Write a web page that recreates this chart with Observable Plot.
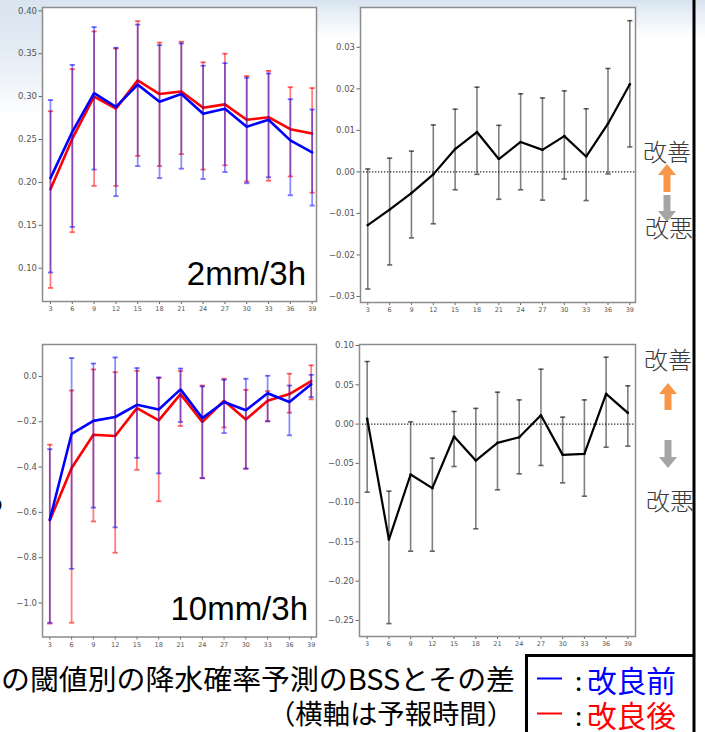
<!DOCTYPE html>
<html>
<head>
<meta charset="utf-8">
<script src="https://cdn.jsdelivr.net/npm/d3@7"></script>
<script src="https://cdn.jsdelivr.net/npm/@observablehq/plot@0.6"></script>
<style>
  html, body { margin: 0; padding: 0; background: #fff; }
  #page { position: relative; width: 705px; height: 732px; overflow: hidden; background: #fff; }
  .bgTop { position: absolute; left: 0; top: 0; width: 705px; height: 40px;
           background: linear-gradient(to bottom, #d6e2ef 0px, #e6eef6 12px, rgba(255,255,255,0) 38px); }
  .bgLeft { position: absolute; left: 0; top: 0; width: 48px; height: 120px;
            background: linear-gradient(to bottom, #d9e4f0 0px, #e3ebf4 50px, rgba(255,255,255,0) 118px); }
  .panel { position: absolute; }
  #overlay { position: absolute; left: 0; top: 0; }
</style>
</head>
<body>
<div id="page">
  <div class="bgTop"></div>
  <div class="bgLeft"></div>
</div>
<script>
// ---------- data ----------
const hours = [3, 6, 9, 12, 15, 18, 21, 24, 27, 30, 33, 36, 39];

// 2mm/3h BSS, before improvement (blue)
const bss2Before   = [0.205, 0.259, 0.304, 0.288, 0.314, 0.294, 0.303, 0.280, 0.286, 0.265, 0.273, 0.249, 0.235];
const bss2BeforeHi = [0.296, 0.337, 0.381, 0.357, 0.384, 0.360, 0.362, 0.336, 0.339, 0.322, 0.327, 0.297, 0.285];
const bss2BeforeLo = [0.095, 0.148, 0.215, 0.184, 0.219, 0.205, 0.216, 0.204, 0.212, 0.199, 0.206, 0.185, 0.173];
// 2mm/3h BSS, after improvement (red)
const bss2After    = [0.192, 0.251, 0.300, 0.286, 0.319, 0.303, 0.306, 0.287, 0.291, 0.273, 0.276, 0.262, 0.257];
const bss2AfterHi  = [0.283, 0.332, 0.376, 0.356, 0.388, 0.363, 0.364, 0.340, 0.350, 0.324, 0.330, 0.311, 0.310];
const bss2AfterLo  = [0.077, 0.142, 0.196, 0.196, 0.231, 0.219, 0.233, 0.215, 0.220, 0.201, 0.202, 0.207, 0.188];
// 2mm/3h difference
const diff2   = [-0.0128, -0.0091, -0.0051, -0.0006, 0.0055, 0.0096, 0.0031, 0.0072, 0.0053, 0.0086, 0.0037, 0.0116, 0.0211];
const diff2Hi = [0.0007, 0.0033, 0.0050, 0.0113, 0.0151, 0.0204, 0.0112, 0.0188, 0.0178, 0.0195, 0.0152, 0.0249, 0.0364];
const diff2Lo = [-0.0282, -0.0224, -0.0159, -0.0125, -0.0043, -0.0006, -0.0066, -0.0043, -0.0068, -0.0017, -0.0069, -0.0005, 0.0060];

// 10mm/3h BSS, before (blue)
const bss10Before   = [-0.632, -0.253, -0.196, -0.179, -0.125, -0.146, -0.057, -0.184, -0.113, -0.149, -0.074, -0.113, -0.034];
const bss10BeforeHi = [-0.321, 0.081, 0.057, 0.084, 0.037, -0.004, 0.035, -0.044, -0.015, -0.010, 0.003, -0.040, 0.007];
const bss10BeforeLo = [-1.087, -0.849, -0.579, -0.666, -0.359, -0.428, -0.201, -0.449, -0.250, -0.407, -0.198, -0.260, -0.091];
// 10mm/3h BSS, after (red)
const bss10After    = [-0.635, -0.404, -0.257, -0.263, -0.140, -0.194, -0.078, -0.201, -0.107, -0.190, -0.107, -0.078, -0.021];
const bss10AfterHi  = [-0.301, -0.062, 0.031, 0.019, 0.025, -0.007, 0.024, -0.040, -0.010, -0.059, -0.065, 0.012, 0.049];
const bss10AfterLo  = [-1.091, -1.087, -0.640, -0.778, -0.412, -0.551, -0.219, -0.449, -0.225, -0.407, -0.198, -0.160, -0.101];
// 10mm/3h difference
const diff10   = [0.0067, -0.147, -0.0642, -0.0816, -0.0158, -0.0464, -0.0239, -0.0167, 0.0113, -0.0392, -0.0379, 0.0385, 0.0143];
const diff10Hi = [0.0796, -0.0854, 0.0028, -0.0434, 0.016, 0.020, 0.0406, 0.0308, 0.0699, 0.0088, 0.0308, 0.0851, 0.0487];
const diff10Lo = [-0.0867, -0.254, -0.1618, -0.1618, -0.054, -0.1333, -0.0837, -0.0633, -0.0527, -0.0748, -0.0918, -0.0294, -0.0281];

// tick labels
const yTicks2   = [0.10, 0.15, 0.20, 0.25, 0.30, 0.35, 0.40];
const yTicksD2  = [-0.03, -0.02, -0.01, 0.00, 0.01, 0.02, 0.03];
const yTicks10  = [-1.0, -0.8, -0.6, -0.4, -0.2, 0.0];
const yTicksD10 = [-0.25, -0.20, -0.15, -0.10, -0.05, 0.00, 0.05, 0.10];

// text
const panelLabels = ["2mm/3h", "10mm/3h"];
const captionLine1 = "の閾値別の降水確率予測のBSSとその差";
const captionLine2 = "（横軸は予報時間）";
const legendBefore = "改良前";
const legendAfter = "改良後";
const better = "改善";
const worse = "改悪";

// ---------- helpers ----------
const rows = (v, lo, hi) => hours.map((h, i) => ({h, v: v[i], lo: lo[i], hi: hi[i]}));
const capSymbol = { draw(ctx, size) { const r = Math.sqrt(size / Math.PI); ctx.moveTo(-r, 0); ctx.lineTo(r, 0); } };

function errSeries(data, color, opacity, width, lineWidth) {
  return [
    Plot.ruleX(data, {x: "h", y1: "lo", y2: "hi", stroke: color, strokeOpacity: opacity, strokeWidth: width}),
    Plot.dot(data, {x: "h", y: "hi", symbol: capSymbol, r: 2.6, fill: "none", stroke: color, strokeOpacity: opacity + 0.1, strokeWidth: width}),
    Plot.dot(data, {x: "h", y: "lo", symbol: capSymbol, r: 2.6, fill: "none", stroke: color, strokeOpacity: opacity + 0.1, strokeWidth: width}),
    Plot.line(data, {x: "h", y: "v", stroke: color, strokeWidth: lineWidth, strokeLinejoin: "miter"})
  ];
}

function axes(yTicks, fmt) {
  return [
    Plot.axisX({ticks: hours, tickSize: 3, tickPadding: 2, fontSize: 6.5, fill: "#555", stroke: "#666", label: null, tickFormat: d => String(d)}),
    Plot.axisY({ticks: yTicks, tickSize: 3.5, tickPadding: 2, fontSize: 8.5, fill: "#555", stroke: "#666", label: null, tickFormat: d3.format(fmt)})
  ];
}

function makePanel(opts) {
  const chart = Plot.plot({
    width: opts.width, height: opts.height,
    marginLeft: opts.ml, marginRight: opts.mr, marginTop: opts.mt, marginBottom: opts.mb,
    style: {background: "transparent", fontFamily: "DejaVu Sans", color: "#555"},
    x: {domain: opts.xDomain},
    y: {domain: opts.yDomain},
    marks: [
      Plot.frame({fill: "white", stroke: "none"}),
      ...opts.marks,
      ...axes(opts.yTicks, opts.fmt),
      Plot.frame({stroke: "#8c8c8c", strokeWidth: 1.5})
    ]
  });
  const div = document.createElement("div");
  div.className = "panel";
  div.style.left = opts.left + "px";
  div.style.top = opts.top + "px";
  div.appendChild(chart);
  document.getElementById("page").appendChild(div);
}

// top-left: 2mm/3h BSS
makePanel({
  left: 0, top: 0, width: 320, height: 318, ml: 42, mr: 4, mt: 7, mb: 17,
  xDomain: [1.9, 39.6], yDomain: [0.0612, 0.4039], yTicks: yTicks2, fmt: ".2f",
  marks: [
    ...errSeries(rows(bss2After, bss2AfterLo, bss2AfterHi), "#ff0000", 0.5, 1.8, 2.6),
    ...errSeries(rows(bss2Before, bss2BeforeLo, bss2BeforeHi), "#0000ff", 0.45, 1.8, 2.6)
  ]
});

// top-right: 2mm/3h difference
makePanel({
  left: 320, top: 0, width: 320, height: 319, ml: 40, mr: 5, mt: 7, mb: 17,
  xDomain: [2.0, 39.78], yDomain: [-0.03145, 0.03958], yTicks: yTicksD2, fmt: ".2f",
  marks: [
    Plot.ruleY([0], {stroke: "#333", strokeWidth: 1.2, strokeDasharray: "1.4,1.6"}),
    ...errSeries(rows(diff2, diff2Lo, diff2Hi), "#000000", 0.5, 1.6, 2.2),
    Plot.dot(rows(diff2, diff2Lo, diff2Hi), {x: "h", y: "v", r: 1.3, fill: "#000"})
  ]
});

// bottom-left: 10mm/3h BSS
makePanel({
  left: 0, top: 330, width: 320, height: 324, ml: 42, mr: 4, mt: 14, mb: 17.5,
  xDomain: [1.99, 39.73], yDomain: [-1.150, 0.141], yTicks: yTicks10, fmt: ".1f",
  marks: [
    ...errSeries(rows(bss10After, bss10AfterLo, bss10AfterHi), "#ff0000", 0.5, 1.8, 2.6),
    ...errSeries(rows(bss10Before, bss10BeforeLo, bss10BeforeHi), "#0000ff", 0.45, 1.8, 2.6)
  ]
});

// bottom-right: 10mm/3h difference
makePanel({
  left: 320, top: 330, width: 320, height: 323, ml: 39, mr: 5, mt: 14, mb: 17,
  xDomain: [1.94, 40.06], yDomain: [-0.2704, 0.1013], yTicks: yTicksD10, fmt: ".2f",
  marks: [
    Plot.ruleY([0], {stroke: "#333", strokeWidth: 1.2, strokeDasharray: "1.4,1.6"}),
    ...errSeries(rows(diff10, diff10Lo, diff10Hi), "#000000", 0.5, 1.6, 2.2),
    Plot.dot(rows(diff10, diff10Lo, diff10Hi), {x: "h", y: "v", r: 1.3, fill: "#000"})
  ]
});

// ---------- overlay: labels, caption, legend, arrows ----------
const NS = "http://www.w3.org/2000/svg";
const svg = document.createElementNS(NS, "svg");
svg.setAttribute("id", "overlay");
svg.setAttribute("width", 705);
svg.setAttribute("height", 732);
document.getElementById("page").appendChild(svg);

function el(tag, attrs, text) {
  const e = document.createElementNS(NS, tag);
  for (const k in attrs) e.setAttribute(k, attrs[k]);
  if (text != null) e.textContent = text;
  svg.appendChild(e);
  return e;
}
const jp = "'Noto Sans CJK JP', 'Noto Sans CJK SC', sans-serif";

// panel labels
el("text", {x: 306, y: 285, "text-anchor": "end", "font-family": "'Liberation Sans', Arial, sans-serif", "font-size": 33, fill: "#000"}, panelLabels[0]);
el("text", {x: 308, y: 620, "text-anchor": "end", "font-family": "'Liberation Sans', Arial, sans-serif", "font-size": 33, fill: "#000"}, panelLabels[1]);

// clipped fragments from slide at left edge
el("text", {x: -15, y: 370, "font-family": jp, "font-size": 26, fill: "#000"}, "）");
el("text", {x: -13, y: 512, "font-family": jp, "font-size": 26, fill: "#000"}, "o");

// caption
el("text", {x: 1, y: 690, "font-family": jp, "font-size": 28, fill: "#000", textLength: 514, lengthAdjust: "spacingAndGlyphs"}, captionLine1);
el("text", {x: 268, y: 724, "font-family": jp, "font-size": 27, fill: "#000", textLength: 246, lengthAdjust: "spacingAndGlyphs"}, captionLine2);

// legend box and right border line
el("path", {d: "M526.5,740 L526.5,655.5 L693,655.5", fill: "none", stroke: "#000", "stroke-width": 3});
el("line", {x1: 694, y1: 0, x2: 694, y2: 732, stroke: "#000", "stroke-width": 3});
el("line", {x1: 537, y1: 678.5, x2: 562, y2: 678.5, stroke: "#0000ff", "stroke-width": 2});
el("text", {x: 575, y: 691, "font-family": jp, "font-size": 26, fill: "#000"}, ":");
el("text", {x: 587, y: 692, "font-family": jp, "font-size": 30, fill: "#0000ff", textLength: 89, lengthAdjust: "spacingAndGlyphs"}, legendBefore);
el("line", {x1: 537, y1: 713.5, x2: 562, y2: 713.5, stroke: "#ff0000", "stroke-width": 2});
el("text", {x: 575, y: 726, "font-family": jp, "font-size": 26, fill: "#000"}, ":");
el("text", {x: 587, y: 727, "font-family": jp, "font-size": 30, fill: "#ff0000", textLength: 89, lengthAdjust: "spacingAndGlyphs"}, legendAfter);

// improvement / deterioration indicators
function indicator(cx, tBetter, aUpTop, aUpBot, aDnTop, aDnBot, tWorse, wx) {
  el("text", {x: cx, y: tBetter, "text-anchor": "middle", "font-family": jp, "font-size": 24, fill: "#3a3a3a", "font-weight": 300}, better);
  const hh = 11, hw = 9, sw = 3.5;
  el("path", {d: `M${cx},${aUpTop} L${cx + hw},${aUpTop + hh} L${cx + sw},${aUpTop + hh} L${cx + sw},${aUpBot} L${cx - sw},${aUpBot} L${cx - sw},${aUpTop + hh} L${cx - hw},${aUpTop + hh} Z`, fill: "#f79646"});
  el("path", {d: `M${cx - sw},${aDnTop} L${cx + sw},${aDnTop} L${cx + sw},${aDnBot - hh} L${cx + hw},${aDnBot - hh} L${cx},${aDnBot} L${cx - hw},${aDnBot - hh} L${cx - sw},${aDnBot - hh} Z`, fill: "#a5a5a5"});
  el("text", {x: wx, y: tWorse, "text-anchor": "middle", "font-family": jp, "font-size": 24, fill: "#3a3a3a", "font-weight": 300}, worse);
}
indicator(667, 161, 164, 192, 195, 222, 237, 669);
indicator(668, 369, 383, 410, 440, 468, 510, 670);
</script>
</body>
</html>
